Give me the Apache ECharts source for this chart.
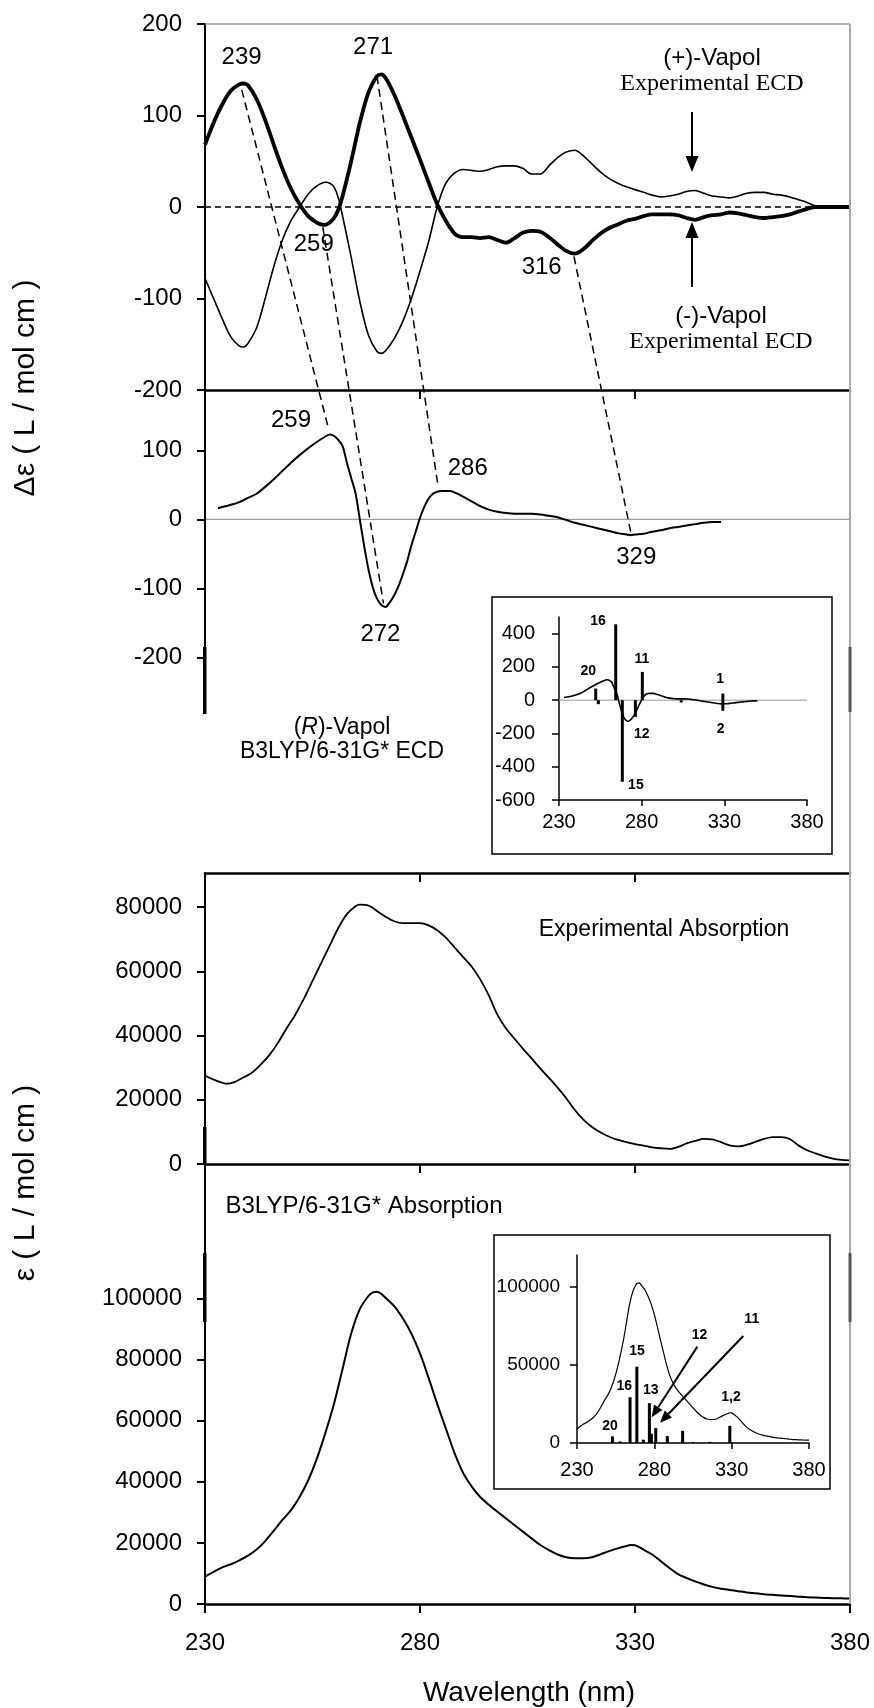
<!DOCTYPE html>
<html>
<head>
<meta charset="utf-8">
<title>Vapol ECD and absorption spectra</title>
<script src="https://cdn.jsdelivr.net/npm/echarts@6/dist/echarts.min.js"></script>
<style>
  html, body { margin: 0; padding: 0; background: #fff; }
  #chart { width: 874px; height: 1708px; }
</style>
</head>
<body>
<div id="chart"></div>
<script>
// ---------- data ----------
const wavelengthTicks = [230, 280, 330, 380];

// Experimental ECD, (-)-Vapol (bold trace) and (+)-Vapol (thin trace)
const minusVapolECD = [[230,68],[232,92],[234,112],[236,127],[238,134],[239,135],[240,133],[242,118],[244,95],[246,68],[248,42],[250,20],[252,3],[254,-10],[256,-17],[257,-19],[258,-19.5],[259,-17],[260,-12],[261,-3],[262,12],[264,50],[266,92],[268,125],[270,143],[271,145],[272,141],[274,123],[276,100],[278,76],[280,52],[282,27],[284,3],[286,-15],[288,-29],[289,-32],[290,-33],[292,-33],[294,-34],[296,-33],[298,-36],[300,-39],[302,-34],[304,-28],[306,-26],[308,-27],[310,-33],[312,-41],[314,-48],[316,-51],[318,-46],[320,-37],[322,-29],[324,-23],[326,-19],[328,-15],[330,-13],[332,-10],[334,-8],[336,-8],[338,-8],[340,-9],[342,-12],[344,-14],[346,-11],[348,-9],[350,-8],[352,-6],[354,-7],[356,-9],[358,-11],[360,-12],[362,-11],[364,-10],[366,-8],[368,-5],[370,-2],[372,0],[374,0],[376,0],[378,0],[380,0]];
const plusVapolECD = [[230,-78],[232,-100],[234,-122],[236,-142],[238,-152],[239,-153],[240,-149],[242,-132],[244,-100],[246,-65],[248,-36],[250,-15],[252,0],[254,14],[256,23],[258,27],[259,26],[260,22],[261,10],[262,-10],[264,-55],[266,-103],[268,-140],[270,-158],[271,-160],[272,-157],[274,-144],[276,-125],[278,-100],[280,-70],[282,-38],[284,0],[286,26],[288,37],[290,41],[292,40],[294,39],[296,41],[298,44],[300,45],[302,45],[304,42],[306,36],[308,36],[310,45],[312,54],[314,60],[316,62],[318,56],[320,47],[322,38],[324,31],[326,26],[328,22],[330,19],[332,16],[334,13],[336,11],[338,12],[340,14],[342,17],[344,18],[346,15],[348,12],[350,11],[352,10],[354,12],[356,15],[358,16],[360,16],[362,14],[364,13],[366,11],[368,8],[370,5],[372,1],[374,0],[376,0],[378,0],[380,0]];

// B3LYP/6-31G* ECD of (R)-Vapol
const calcECD = [[233,16],[236,21],[238,25],[240,31],[242,37],[244,47],[246,58],[248,70],[250,82],[252,93],[254,103],[256,112],[258,120],[259,123],[260,121],[261,115],[262,106],[263,82],[264,60],[265,38],[266,0],[267,-38],[268,-72],[269,-98],[270,-115],[271,-124],[272,-127],[273,-120],[274,-110],[275,-97],[276,-80],[277,-61],[278,-38],[279,-18],[280,2],[281,18],[282,30],[283,37],[284,40],[285,41],[287,41],[288,39],[290,33],[292,26],[294,19],[296,14],[298,11],[300,9],[302,8],[304,8],[306,8],[308,7],[310,5],[312,3],[314,-1],[316,-5],[318,-8],[320,-11],[322,-14],[324,-17],[326,-20],[328,-22],[329,-23],[330,-22],[332,-21],[334,-18],[336,-16],[338,-13],[340,-11],[342,-9],[344,-7],[346,-5],[348,-4],[350,-4]];
// rotational strengths (stick spectrum)
const ecdSticks = [[252.2,70],[253.8,-24],[264.3,456],[268.3,-490],[276.2,-100],[280.4,170],[303.9,-14],[329.1,40],[329.1,-64]];

// Experimental absorption
const expAbs = [[230,27500],[232,26300],[234,25300],[235,25000],[237,25600],[239,27000],[241,28500],[243,31000],[245,34000],[247,37800],[249,42300],[251,46500],[253,51500],[255,57000],[257,62500],[259,68000],[261,73500],[263,77800],[265,80300],[266,80800],[268,80500],[270,78800],[272,77000],[274,75600],[276,75000],[278,75000],[280,75000],[282,74300],[284,72800],[286,70500],[288,67500],[290,64500],[292,61500],[294,57500],[296,52500],[298,46500],[300,42200],[302,39000],[304,35800],[306,32800],[308,29700],[310,26800],[312,23800],[314,20500],[316,16800],[318,13800],[320,11500],[322,9800],[324,8500],[326,7500],[328,6800],[330,6200],[332,5700],[334,5200],[336,4900],[338,4700],[340,5300],[342,6400],[344,7200],[346,7800],[348,7700],[350,6800],[352,5800],[354,5500],[356,6000],[358,6900],[360,7800],[362,8400],[364,8400],[366,7800],[368,5800],[370,4300],[372,3300],[374,2400],[376,1700],[378,1300],[380,1100]];

// B3LYP/6-31G* absorption
const calcAbs = [[230,9000],[232,10500],[234,12000],[236,13000],[238,14300],[240,15800],[242,17800],[244,20600],[246,24000],[248,27500],[250,30700],[252,35000],[254,40500],[256,47500],[258,56000],[260,65500],[262,77000],[264,88500],[266,96500],[268,100800],[269,102000],[270,102200],[271,101500],[272,100200],[274,97500],[276,93500],[278,88500],[280,82000],[282,74000],[284,65500],[286,57500],[288,49500],[290,43000],[292,38500],[294,35000],[296,32500],[298,30200],[300,28000],[302,25800],[304,23600],[306,21400],[308,19300],[310,17600],[312,16200],[314,15300],[316,15000],[318,15000],[320,15300],[322,16300],[324,17300],[326,18200],[328,19000],[329,19300],[330,19200],[332,17800],[334,16200],[336,14000],[338,11800],[340,9800],[342,8500],[344,7400],[346,6400],[348,5600],[350,5000],[352,4600],[354,4200],[356,3800],[358,3500],[360,3200],[362,3000],[364,2800],[366,2600],[368,2400],[370,2200],[372,2100],[374,2000],[376,1900],[378,1850],[380,1800]];
// oscillator strengths as epsilon sticks
const absSticks = [[252.9,4200],[257.9,1000],[264.3,29200],[268.7,48700],[272.9,2100],[276.8,25400],[278.1,5900],[280.9,9500],[288.4,4400],[298.3,7800],[305,500],[316,700],[328.8,11000]];

// tick values per axis
const ecdTopTicks = [-200, -100, 0, 100, 200];
const ecdCalcTicks = [-200, -100, 0, 100];
const expAbsTicks = [0, 20000, 40000, 60000, 80000];
const calcAbsTicks = [0, 20000, 40000, 60000, 80000, 100000];
const insetEcdTicks = [-600, -400, -200, 0, 200, 400];
const insetAbsTicks = [0, 50000, 100000];

// peak annotations [wavelength, value, text]
const peakLabelsExp = [[238.5,163.7,'239'],[269.1,174.6,'271'],[255.3,-41.2,'259'],[308.3,-65.8,'316']];
const peakLabelsCalc = [[250,143.9,'259'],[291.1,74.3,'286'],[270.8,-167.4,'272'],[330.3,-55.4,'329']];

// correlation lines: experimental band -> calculated band
const linkFrom = [[238.55,128],[257.4,-22],[270,143],[315.8,-54]];
const linkTo = [[258.7,132],[271.5,-122],[284.1,52],[329,-18]];

// excited-state numbers in the insets
const ecdStickLabels = [[247.7,177,'20'],[253.6,473,'16'],[280.2,248,'11'],[327.4,127,'1'],[280,-203,'12'],[276.5,-510,'15'],[327.7,-174,'2']];
const absStickLabels = [[251.3,10850,'20'],[260.5,36500,'16'],[268.8,58700,'15'],[277.7,33600,'13'],[309.2,68900,'12'],[343,79150,'11'],[329.6,29000,'1,2']];
const absArrows = [[[307.8,61500],[278.3,16400]],[[337.5,68300],[283.7,13000]]];

// ---------- layout ----------
const SANS = '"Liberation Sans", Arial, Helvetica, sans-serif';
const SERIF = '"Liberation Serif", "Times New Roman", serif';
const L = 205, RIGHT_X = 850, R = 874 - RIGHT_X;
const panels = [
  { top: 24, bottom: 390 },
  { top: 390, bottom: 873 },
  { top: 873, bottom: 1164 },
  { top: 1164, bottom: 1604 }
];
const plain = v => String(v);

function mainX(gi) {
  return {
    type: 'value', gridIndex: gi, min: 230, max: 380,
    axisLine: { onZero: false, lineStyle: { color: '#000', width: 2.5 } },
    axisTick: { customValues: wavelengthTicks, length: 9, lineStyle: { color: '#000', width: 2 } },
    axisLabel: { show: gi === 3, customValues: wavelengthTicks, formatter: plain, fontSize: 24, color: '#000', fontFamily: SANS, margin: 27 },
    splitLine: { show: false }
  };
}
function mainY(gi, min, max, ticks, showLine) {
  return {
    type: 'value', gridIndex: gi, min: min, max: max,
    axisLine: { show: showLine, onZero: false, lineStyle: { color: '#000', width: 2 } },
    axisTick: { customValues: ticks, length: 8, lineStyle: { color: '#000', width: 2 } },
    axisLabel: { customValues: ticks, formatter: plain, fontSize: 24, color: '#000', fontFamily: SANS, margin: 23 },
    splitLine: { show: false }
  };
}
function insetX(gi, margin) {
  return {
    type: 'value', gridIndex: gi, min: 230, max: 380,
    axisLine: { onZero: false, lineStyle: { color: '#000', width: 1.5 } },
    axisTick: { customValues: wavelengthTicks, length: 6, lineStyle: { color: '#000', width: 1.5 } },
    axisLabel: { customValues: wavelengthTicks, formatter: plain, fontSize: 20, color: '#000', fontFamily: SANS, margin: margin },
    splitLine: { show: false }
  };
}
function insetY(gi, min, max, ticks, size, margin) {
  return {
    type: 'value', gridIndex: gi, min: min, max: max,
    axisLine: { onZero: false, lineStyle: { color: '#000', width: 1.5 } },
    axisTick: { customValues: ticks, length: 7, lineStyle: { color: '#000', width: 1.5 } },
    axisLabel: { customValues: ticks, formatter: plain, fontSize: size, color: '#000', fontFamily: SANS, margin: margin },
    splitLine: { show: false }
  };
}
function line(gi, data, width, color, dash) {
  return {
    type: 'line', xAxisIndex: gi, yAxisIndex: gi, data: data, symbol: 'none',
    smooth: 0.3, silent: true,
    lineStyle: { color: color || '#000', width: width, type: dash || 'solid' }
  };
}
function zeroLine(gi, color, width, dash) {
  return {
    type: 'line', xAxisIndex: gi, yAxisIndex: gi, data: [[230, 0], [380, 0]], symbol: 'none', silent: true,
    lineStyle: { color: color, width: width, type: dash || 'solid' }, z: 1
  };
}
function sticks(gi, data) {
  return {
    type: 'bar', xAxisIndex: gi, yAxisIndex: gi, data: data, barWidth: 3, silent: true,
    itemStyle: { color: '#000' }, z: 3
  };
}

const grids = panels.map(p => ({ left: L, right: R, top: p.top, height: p.bottom - p.top, containLabel: false, outerBoundsMode: 'none' }));
grids.push({ left: 559, top: 617, width: 248, height: 183, containLabel: false, outerBoundsMode: 'none' });
grids.push({ left: 577, top: 1255, width: 232, height: 188, containLabel: false, outerBoundsMode: 'none' });

const option = {
  animation: false,
  backgroundColor: '#fff',
  textStyle: { fontFamily: SANS },
  grid: grids,
  xAxis: [mainX(0), mainX(1), mainX(2), mainX(3), insetX(4, 12), insetX(5, 17)],
  yAxis: [
    mainY(0, -200, 200, ecdTopTicks, true),
    mainY(1, -512.6, 187.4, ecdCalcTicks, false),
    mainY(2, 0, 90625, expAbsTicks, true),
    mainY(3, 0, 144000, calcAbsTicks, true),
    insetY(4, -600, 500, insetEcdTicks, 20, 24),
    insetY(5, 0, 120000, insetAbsTicks, 19, 17)
  ],
  series: [
    zeroLine(0, '#000', 1.5, [6, 4]),
    line(0, plusVapolECD, 1.6),
    line(0, minusVapolECD, 3.8),
    zeroLine(1, '#9a9a9a', 1.2),
    line(1, calcECD, 2),
    line(2, expAbs, 1.8),
    line(3, calcAbs, 2),
    zeroLine(4, '#9a9a9a', 1),
    line(4, calcECD, 1.6),
    sticks(4, ecdSticks),
    line(5, calcAbs, 1.2),
    sticks(5, absSticks)
  ]
};

const chart = echarts.init(document.getElementById('chart'), null, { renderer: 'canvas', width: 874, height: 1708 });
chart.setOption(option);

// ---------- annotations ----------
const toPx = (gi, p) => chart.convertToPixel({ gridIndex: gi }, p);

function text(x, y, str, size, opt) {
  opt = opt || {};
  const el = {
    type: 'text', x: x, y: y, z: 20, rotation: opt.rot || 0,
    style: {
      text: str, fill: '#000',
      font: (opt.bold ? 'bold ' : '') + size + 'px ' + (opt.family || SANS),
      align: 'center', verticalAlign: 'middle'
    }
  };
  if (opt.rich) el.style.rich = opt.rich;
  return el;
}
function seg(p0, p1, width, color, dash) {
  return {
    type: 'line', z: 15, shape: { x1: p0[0], y1: p0[1], x2: p1[0], y2: p1[1] },
    style: { stroke: color || '#000', lineWidth: width, lineDash: dash || null }
  };
}
function arrow(p0, p1, width, headLen, headHalf) {
  const dx = p1[0] - p0[0], dy = p1[1] - p0[1];
  const len = Math.sqrt(dx * dx + dy * dy);
  const ux = dx / len, uy = dy / len;
  const bx = p1[0] - ux * headLen, by = p1[1] - uy * headLen;
  return [
    seg(p0, [bx, by], width),
    {
      type: 'polygon', z: 15,
      shape: { points: [[p1[0], p1[1]], [bx - uy * headHalf, by + ux * headHalf], [bx + uy * headHalf, by - ux * headHalf]] },
      style: { fill: '#000' }
    }
  ];
}

const g = [];

// frame pieces shared by the stacked panels
g.push(seg([L, 24], [RIGHT_X, 24], 1.5, '#9a9a9a'));
g.push(seg([RIGHT_X, 24], [RIGHT_X, 1604], 2, '#a8a8a8'));
g.push(seg([L, 390], [L, 714], 2));
g.push({ type: 'rect', z: 16, shape: { x: 203, y: 647, width: 3.5, height: 67 }, style: { fill: '#000' } });
g.push({ type: 'rect', z: 16, shape: { x: 203, y: 1127, width: 3.5, height: 37 }, style: { fill: '#000' } });
g.push({ type: 'rect', z: 16, shape: { x: 203, y: 1253, width: 3.5, height: 69 }, style: { fill: '#000' } });
g.push({ type: 'rect', z: 16, shape: { x: 848.5, y: 647, width: 3, height: 65 }, style: { fill: '#555' } });
g.push({ type: 'rect', z: 16, shape: { x: 848.5, y: 1253, width: 3, height: 69 }, style: { fill: '#555' } });

// inset frames
g.push({ type: 'rect', z: 14, shape: { x: 492, y: 597, width: 340, height: 257 }, style: { fill: null, stroke: '#000', lineWidth: 1.5 } });
g.push({ type: 'rect', z: 14, shape: { x: 494, y: 1235, width: 336, height: 254 }, style: { fill: null, stroke: '#000', lineWidth: 1.5 } });

// correlation lines between experimental and calculated ECD bands
linkFrom.forEach((p, i) => {
  g.push(seg(toPx(0, p), toPx(1, linkTo[i]), 1.5, '#000', [8, 5]));
});

// band positions
peakLabelsExp.forEach(p => { const q = toPx(0, [p[0], p[1]]); g.push(text(q[0], q[1], p[2], 24)); });
peakLabelsCalc.forEach(p => { const q = toPx(1, [p[0], p[1]]); g.push(text(q[0], q[1], p[2], 24)); });

// state numbers in the insets
ecdStickLabels.forEach(p => { const q = toPx(4, [p[0], p[1]]); g.push(text(q[0], q[1], p[2], 14, { bold: true })); });
absStickLabels.forEach(p => { const q = toPx(5, [p[0], p[1]]); g.push(text(q[0], q[1], p[2], 14, { bold: true })); });
absArrows.forEach(a => { arrow(toPx(5, a[0]), toPx(5, a[1]), 2, 12, 5).forEach(e => g.push(e)); });

// trace legends
g.push(text(712, 58, '(+)-Vapol', 24));
g.push(text(712, 84, 'Experimental ECD', 24, { family: SERIF }));
g.push(text(721, 316, '(-)-Vapol', 24));
g.push(text(721, 342, 'Experimental ECD', 24, { family: SERIF }));
arrow([692, 112], [692, 172], 2, 16, 6.5).forEach(e => g.push(e));
arrow([692, 287], [692, 222], 2, 16, 6.5).forEach(e => g.push(e));

g.push(text(342, 728, '({i|R})-Vapol', 23, { rich: { i: { fontStyle: 'italic', fontSize: 23, fontFamily: 'Liberation Sans' } } }));
g.push(text(342, 752, 'B3LYP/6-31G* ECD', 23));
g.push(text(664, 930, 'Experimental Absorption', 23));
g.push(text(364, 1206, 'B3LYP/6-31G* Absorption', 24));

// axis titles
g.push(text(26, 388, 'Δε ( L / mol cm )', 30, { rot: Math.PI / 2 }));
g.push(text(26, 1183, 'ε ( L / mol cm )', 30, { rot: Math.PI / 2 }));
g.push(text(529, 1693, 'Wavelength (nm)', 28));

chart.setOption({ graphic: { elements: g } });
</script>
</body>
</html>
